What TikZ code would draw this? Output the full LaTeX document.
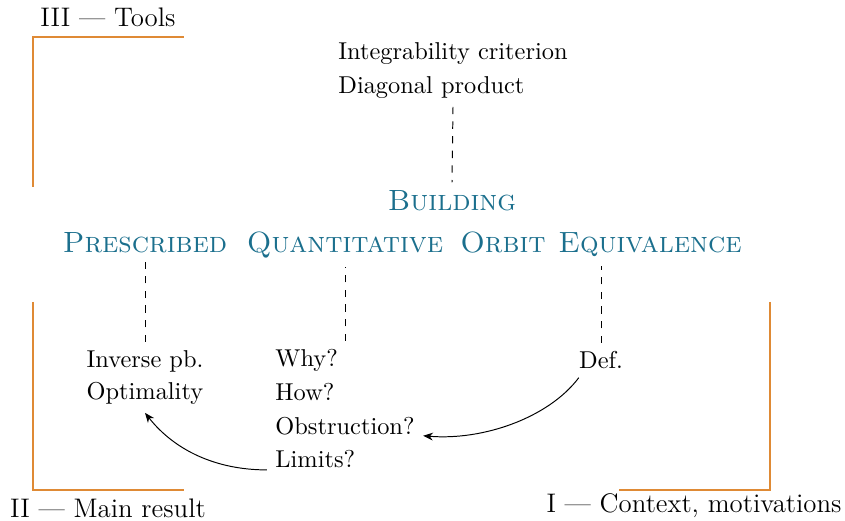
\documentclass[tikz,border=0pt]{standalone}
\usetikzlibrary{arrows.meta}
\definecolor{bracketorange}{HTML}{DF8A35}
\definecolor{titleteal}{HTML}{1B6F8D}
\begin{document}
\begin{tikzpicture}[x=0.41pt,y=-0.41pt,
    titleword/.style={font=\large\scshape, text=titleteal, anchor=base},
    partlabel/.style={font=\fontsize{11}{13}\selectfont, anchor=base},
    itemlist/.style={align=left, anchor=north, font=\fontsize{10}{13.8}\selectfont},
    bracket/.style={draw=bracketorange, line width=0.8pt},
    link/.style={dashed},
    flow/.style={-{Stealth[length=4pt,width=3.2pt]}}]
  \useasboundingbox (0,0) rectangle (845,521);

  % section brackets
  \draw[bracket] (33,187) -- (33,37) -- (184,37);
  \draw[bracket] (33,302) -- (33,490) -- (184,490);
  \draw[bracket] (770,302) -- (770,490) -- (619,490);

  % section labels
  \node[partlabel] (tools) at (108,27) {III --- Tools};
  \node[partlabel] (main) at (108,518) {II --- Main result};
  \node[partlabel] (context) at (694,513) {I --- Context, motivations};

  % title
  \node[titleword] (building) at (452,211) {Building};
  \node[titleword] (prescribed) at (145,253) {Prescribed};
  \node[titleword] (quantitative) at (345,253) {Quantitative};
  \node[titleword] (orbit) at (503,253) {Orbit};
  \node[titleword] (equivalence) at (650,253) {Equivalence};

  % item lists
  \node[itemlist] (toolitems) at (453,34) {Integrability criterion\\Diagonal product};
  \node[itemlist, font=\fontsize{10}{13}\selectfont] (inverse) at (145,342) {Inverse pb.\\Optimality};
  \node[itemlist] (questions) at (345,341) {Why?\\How?\\Obstruction?\\Limits?};
  \node[itemlist] (def) at (601,343) {Def.};

  % dashed links
  \draw[link] (toolitems.south) -- (building.north);
  \draw[link] (inverse.north) -- (inverse.north |- prescribed.south);
  \draw[link] (questions.north) -- (questions.north |- quantitative.south);
  \draw[link] (def.north) -- (def.north |- equivalence.south);

  % arrows
  \draw[flow] (def.-142) .. controls +(-30,40) and +(60,5) .. (questions.-19);
  \draw[flow] (questions.218) .. controls +(-50,0) and +(30,38) .. (inverse.south);
\end{tikzpicture}
\end{document}
